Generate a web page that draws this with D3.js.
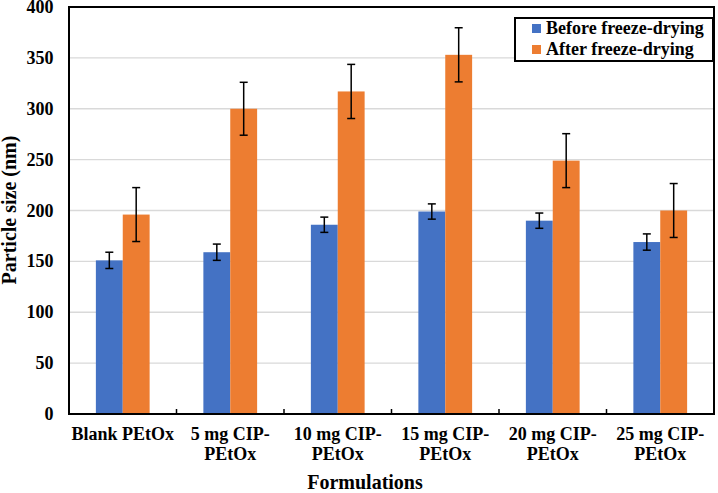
<!DOCTYPE html>
<html><head><meta charset="utf-8">
<script src="https://cdn.jsdelivr.net/npm/d3@7"></script>
<style>body{margin:0;background:#fff}svg{display:block}</style>
</head><body><svg id="c" width="718" height="493"></svg>
<script>
const categories = [["Blank PEtOx"],["5 mg CIP-","PEtOx"],["10 mg CIP-","PEtOx"],["15 mg CIP-","PEtOx"],["20 mg CIP-","PEtOx"],["25 mg CIP-","PEtOx"]];
const seriesNames = ["Before freeze-drying","After freeze-drying"];
const before = [151, 159, 186, 199, 190, 169];
const beforeErr = [8, 8, 7.5, 7.5, 7.5, 8];
const after = [196, 300, 317, 353, 249, 200];
const afterErr = [26.5, 26, 26.6, 26.6, 26.5, 26.5];
const yTicks = [0,50,100,150,200,250,300,350,400];
const colors = ["#4472C4","#ED7D31"];

const FONT = '"Liberation Serif","Times New Roman",serif';
const svg = d3.select("#c");
const txt = (sel, size) => sel.style("font-family", FONT).style("font-weight","bold").style("font-size", size+"px").attr("fill","#000");
const m = {l:69, r:714, t:7, b:414};
const x = d3.scaleBand().domain(d3.range(categories.length)).range([m.l, m.r]);
const y = d3.scaleLinear().domain([0,400]).range([m.b, m.t]);
const bw = x.bandwidth()*0.25;

// gridlines
svg.append("g").selectAll("line").data(yTicks.filter(t=>t>0&&t<400)).join("line")
  .attr("x1",m.l).attr("x2",m.r).attr("y1",d=>y(d)).attr("y2",d=>y(d))
  .attr("stroke","#d9d9d9").attr("stroke-width",1.3);

const series = [{v:before,e:beforeErr},{v:after,e:afterErr}];
series.forEach((s,si)=>{
  const g = svg.append("g");
  g.selectAll("rect").data(s.v).join("rect")
    .attr("x",(d,i)=>x(i)+x.bandwidth()/2 - bw + si*bw)
    .attr("y",d=>y(d)).attr("width",bw).attr("height",d=>y(0)-y(d))
    .attr("fill",colors[si]);
  const cx = (i)=>x(i)+x.bandwidth()/2 - bw + si*bw + bw/2;
  const eg = svg.append("g").attr("stroke","#000").attr("stroke-width",1.5);
  s.v.forEach((d,i)=>{
    const e=s.e[i];
    eg.append("line").attr("x1",cx(i)).attr("x2",cx(i)).attr("y1",y(d+e)).attr("y2",y(d-e));
    eg.append("line").attr("x1",cx(i)-4).attr("x2",cx(i)+4).attr("y1",y(d+e)).attr("y2",y(d+e));
    eg.append("line").attr("x1",cx(i)-4).attr("x2",cx(i)+4).attr("y1",y(d-e)).attr("y2",y(d-e));
  });
});

// frame
svg.append("rect").attr("x",m.l).attr("y",m.t).attr("width",m.r-m.l).attr("height",m.b-m.t)
  .attr("fill","none").attr("stroke","#000").attr("stroke-width",2);

// category ticks
svg.append("g").selectAll("line").data(d3.range(1,categories.length)).join("line")
  .attr("x1",d=>x(d)).attr("x2",d=>x(d)).attr("y1",m.b).attr("y2",m.b-5)
  .attr("stroke","#000").attr("stroke-width",1.5);

// y tick labels
txt(svg.append("g").selectAll("text").data(yTicks).join("text")
  .attr("x",53.5).attr("y",d=>y(d)+6).attr("text-anchor","end").text(d=>d), 18);

// x labels
categories.forEach((lines,i)=>{
  const t = txt(svg.append("text").attr("text-anchor","middle"), 18);
  lines.forEach((l,j)=>t.append("tspan").attr("x",x(i)+x.bandwidth()/2).attr("y",440+j*20).text(l));
});

// axis titles
txt(svg.append("text").attr("x",365).attr("y",489).attr("text-anchor","middle").text("Formulations"), 20);
txt(svg.append("text").attr("transform","translate(16,210) rotate(-90)").attr("text-anchor","middle")
  .text("Particle size (nm)"), 20);

// legend
const lg = svg.append("g");
lg.append("rect").attr("x",515).attr("y",18).attr("width",198).attr("height",43)
  .attr("fill","#fff").attr("stroke","#000").attr("stroke-width",2);
seriesNames.forEach((n,i)=>{
  lg.append("rect").attr("x",532).attr("y",24+i*21).attr("width",9).attr("height",9).attr("fill",colors[i]);
  txt(lg.append("text").attr("x",546).attr("y",33.5+i*21).text(n), 18);
});
</script></body></html>
